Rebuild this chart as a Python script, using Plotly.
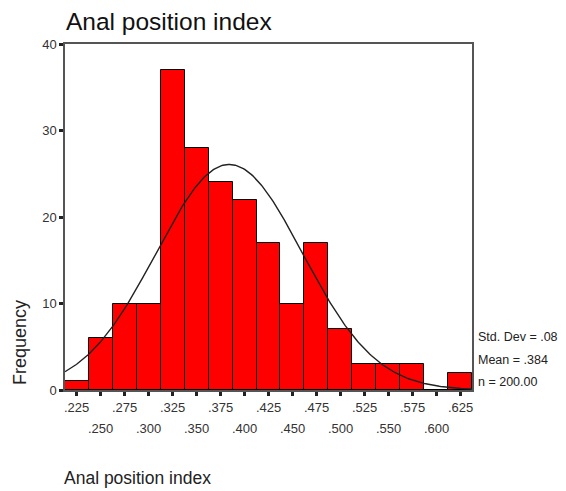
import numpy as np
import plotly.graph_objects as go

bin_centers = [0.225, 0.250, 0.275, 0.300, 0.325, 0.350, 0.375, 0.400, 0.425,
               0.450, 0.475, 0.500, 0.525, 0.550, 0.575, 0.600, 0.625]
counts = [1, 6, 10, 10, 37, 28, 24, 22, 17, 10, 17, 7, 3, 3, 3, 0, 2]
tick_labels = [".225", ".250", ".275", ".300", ".325", ".350", ".375", ".400", ".425",
               ".450", ".475", ".500", ".525", ".550", ".575", ".600", ".625"]
y_ticks = [0, 10, 20, 30, 40]
stat_lines = ["Std. Dev = .08", "Mean = .384", "n = 200.00"]

mean = 0.384
sd = 0.0765
n = 200
bw = 0.025

xs = np.linspace(0.2125, 0.6375, 300)
ys = n * bw / (sd * np.sqrt(2 * np.pi)) * np.exp(-0.5 * ((xs - mean) / sd) ** 2)

font = "Liberation Sans, Arial, sans-serif"

fig = go.Figure()
fig.add_trace(go.Bar(x=bin_centers, y=counts, width=bw,
                     marker=dict(color="#ff0000", line=dict(color="#000000", width=1)),
                     hoverinfo="x+y"))
fig.add_trace(go.Scatter(x=xs, y=ys, mode="lines",
                         line=dict(color="#222222", width=1.4), hoverinfo="skip"))

annotations = []
for i, (v, t) in enumerate(zip(bin_centers, tick_labels)):
    annotations.append(dict(x=v, y=0, xref="x", yref="paper", text=t, showarrow=False,
                            yanchor="middle", yshift=-17 if i % 2 == 0 else -38,
                            font=dict(family=font, size=13, color="#333333")))
for j, s in enumerate(stat_lines):
    annotations.append(dict(x=1 + 4 / 407, y=0, xref="paper", yref="paper", text=s,
                            showarrow=False, xanchor="left", yanchor="middle",
                            yshift=53 - 22.5 * j,
                            font=dict(family=font, size=12.5, color="#222222")))
annotations.append(dict(x=-45 / 407, y=47 / 346, xref="paper", yref="paper", text="Frequency",
                        showarrow=False, textangle=-90, xanchor="center", yanchor="middle",
                        font=dict(family=font, size=18, color="#222222")))
annotations.append(dict(x=-3 / 407, y=0, xref="paper", yref="paper", text="Anal position index",
                        showarrow=False, xanchor="left", yanchor="middle", yshift=-88,
                        font=dict(family=font, size=17.5, color="#222222")))

fig.update_layout(
    width=558, height=483,
    margin=dict(l=57, r=94, t=36, b=101),
    paper_bgcolor="white", plot_bgcolor="white",
    showlegend=False, bargap=0,
    title=dict(text="Anal position index", x=58 / 558, xanchor="left",
               y=1 - 13 / 483, yanchor="middle",
               font=dict(family=font, size=24.5, color="#111111")),
    annotations=annotations,
    xaxis=dict(range=[0.2125, 0.6375], tickvals=bin_centers, showticklabels=False,
               ticks="outside", ticklen=4, tickwidth=3, tickcolor="#222222",
               showgrid=False, zeroline=False, showline=True, linecolor="#555555",
               linewidth=1.5, mirror=True),
    yaxis=dict(range=[0, 40], tickvals=y_ticks, ticks="outside", ticklen=4, tickwidth=3,
               tickcolor="#222222", showgrid=False, zeroline=False, showline=True,
               linecolor="#555555", linewidth=1.5, mirror=True,
               tickfont=dict(family=font, size=13, color="#333333")),
)

fig.write_html("out.html")
